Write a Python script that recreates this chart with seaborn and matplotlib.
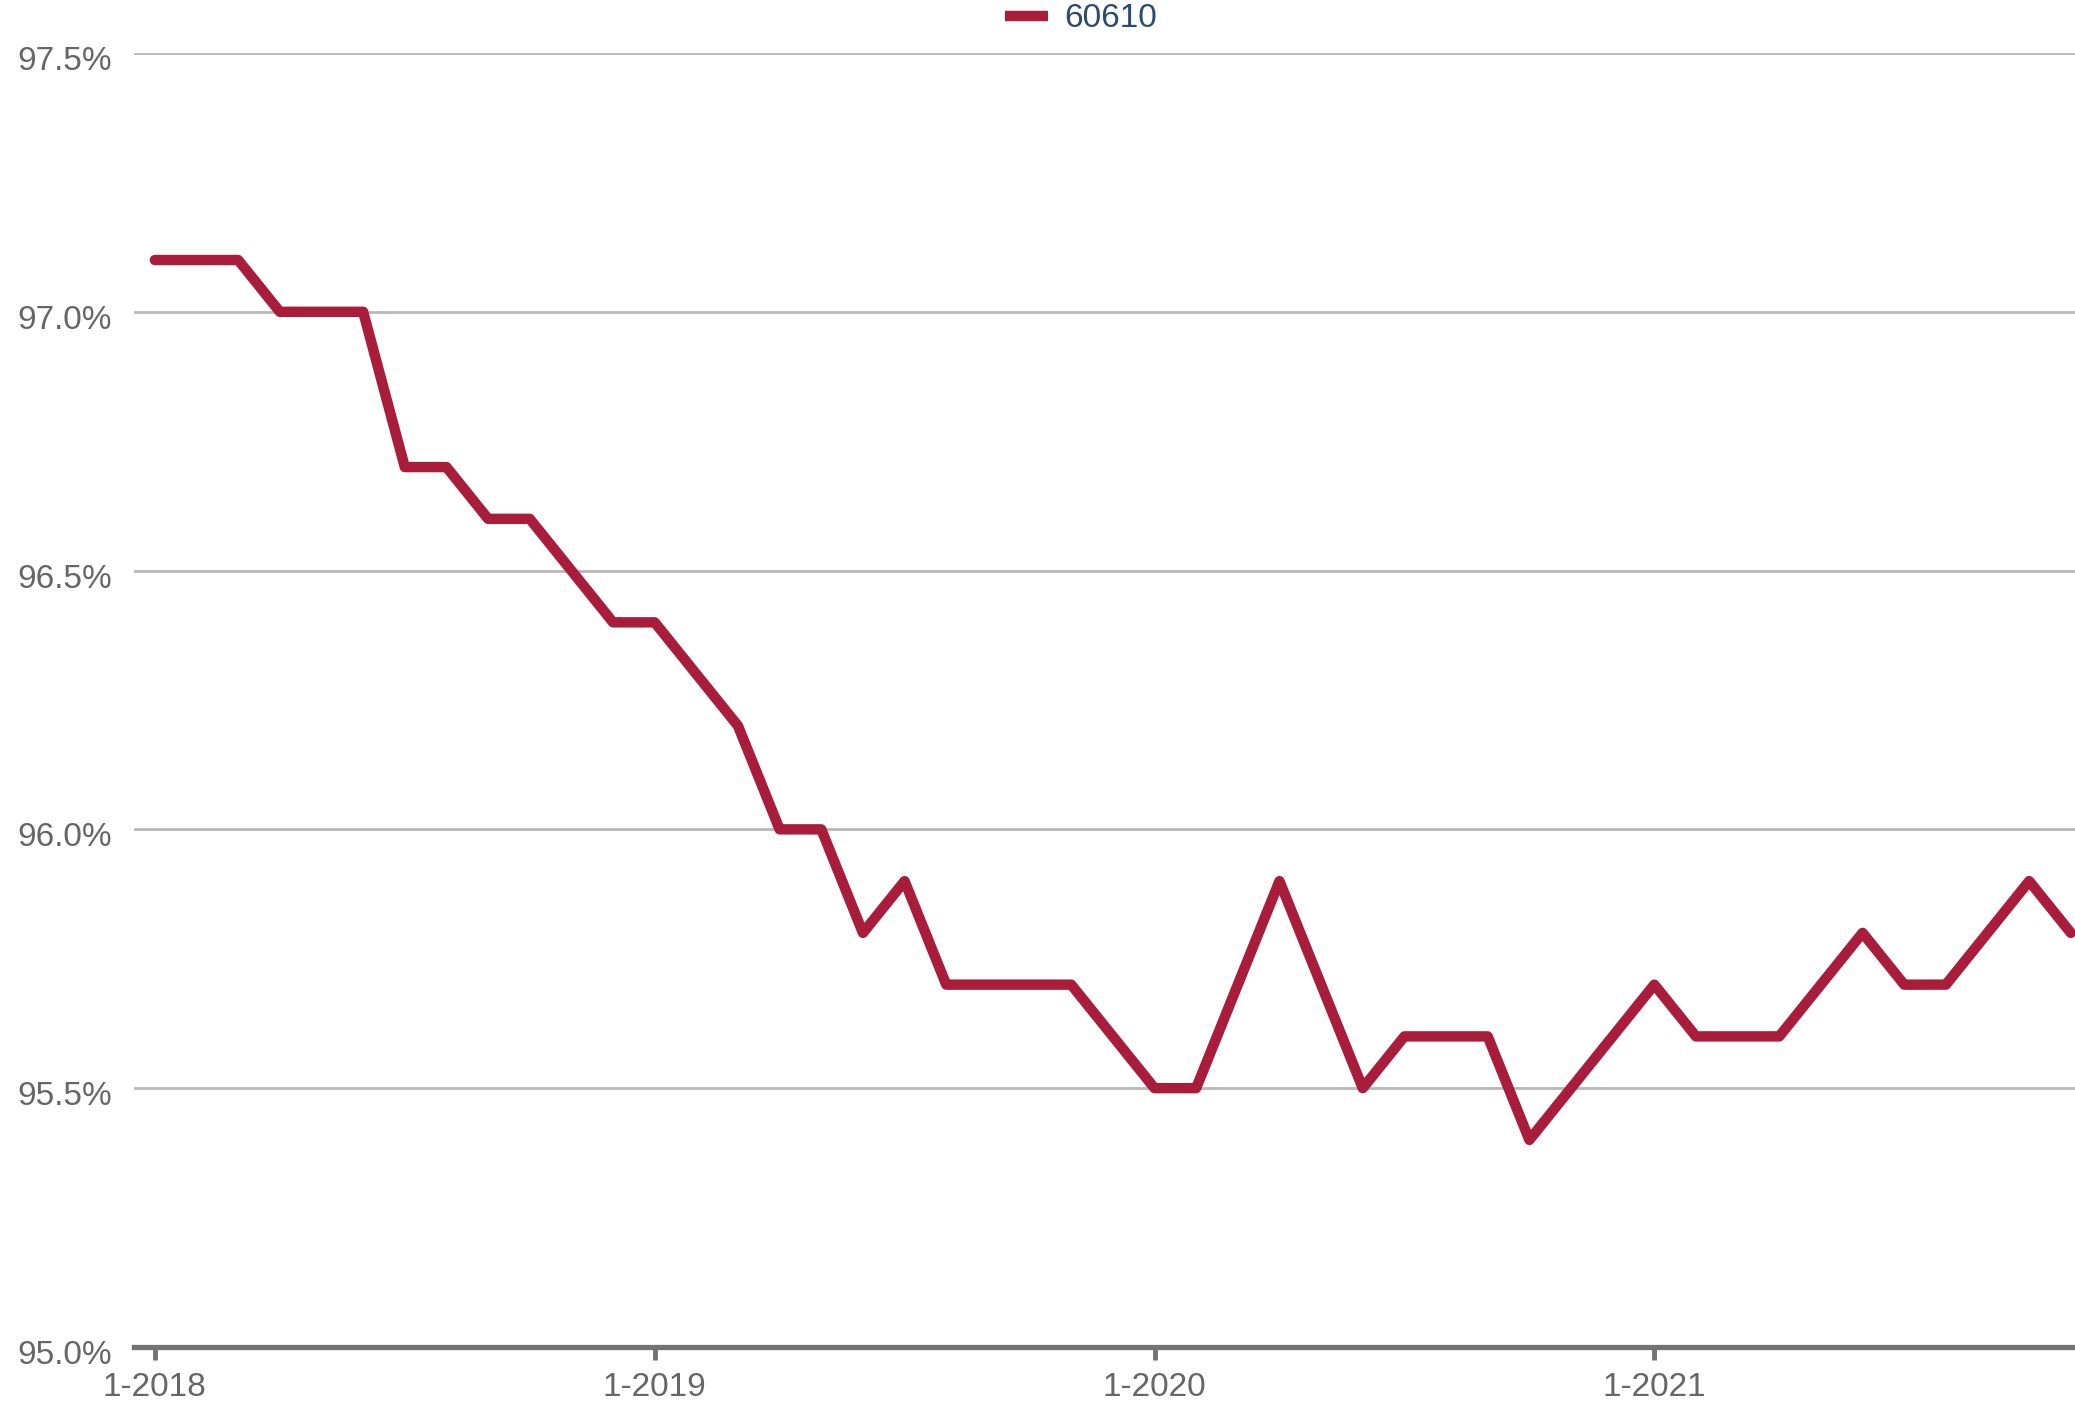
import matplotlib.pyplot as plt
import matplotlib.transforms as mtransforms
import pandas as pd
import seaborn as sns
from matplotlib.ticker import FuncFormatter

# monthly values, Jan 2018 .. Nov 2021
months = pd.date_range('2018-01-01', '2021-11-01', freq='MS')
values = [97.1, 97.1, 97.1, 97.0, 97.0, 97.0, 96.7, 96.7, 96.6, 96.6, 96.5, 96.4,
          96.4, 96.3, 96.2, 96.0, 96.0, 95.8, 95.9, 95.7, 95.7, 95.7, 95.7, 95.6,
          95.5, 95.5, 95.7, 95.9, 95.7, 95.5, 95.6, 95.6, 95.6, 95.4, 95.5, 95.6,
          95.7, 95.6, 95.6, 95.6, 95.7, 95.8, 95.7, 95.7, 95.8, 95.9, 95.8]
series_name = '60610'
tick_labels = ['1-2018', '1-2019', '1-2020', '1-2021']

df = pd.DataFrame({'idx': range(len(months)), 'value': values, 'zip': series_name})

sns.set_theme(style='white')
plt.rcParams['font.family'] = ['Liberation Sans', 'DejaVu Sans']

fig = plt.figure(figsize=(20.75, 14.06), dpi=100)
ax = fig.add_axes([0.0646, 0.042, 0.9354, 0.9203])

sns.lineplot(data=df, x='idx', y='value', hue='zip', palette=['#a91d3a'],
             linewidth=7.5, ax=ax, legend=True, solid_joinstyle='round',
             solid_capstyle='round', clip_on=False)

ax.set_xlim(-0.5, 46.1)
ax.set_ylim(95.0, 97.5)
ax.set_yticks([95.0, 95.5, 96.0, 96.5, 97.0, 97.5])
ax.yaxis.set_major_formatter(FuncFormatter(lambda v, p: f'{v:.1f}%'))
ax.set_xticks([0, 12, 24, 36])
ax.set_xticklabels(tick_labels)
ax.set_xlabel('')
ax.set_ylabel('')

ax.grid(axis='y', color='#b8b8b8', linewidth=2)
ax.set_axisbelow(True)
for s in ['top', 'right', 'left']:
    ax.spines[s].set_visible(False)
ax.spines['bottom'].set_color('#737373')
ax.spines['bottom'].set_linewidth(3.8)
ax.spines['bottom'].set_zorder(5)

ax.tick_params(axis='y', length=0, pad=16, labelsize=24, labelcolor='#666666')
ax.tick_params(axis='x', bottom=True, length=9, width=3.5, color='#737373', pad=9,
               labelsize=24, labelcolor='#666666')

# y labels sit a little below their gridlines
shift = mtransforms.ScaledTranslation(0, -5 / 100, fig.dpi_scale_trans)
for lbl in ax.get_yticklabels():
    lbl.set_transform(lbl.get_transform() + shift)

leg = ax.legend(loc='center', bbox_to_anchor=(0.521, 0.9865), bbox_transform=fig.transFigure,
                frameon=False, fontsize=24, labelcolor='#2b4c6f', handlelength=1.3,
                handletextpad=0.5)
for h in leg.get_lines():
    h.set_linewidth(7.5)
    h.set_solid_capstyle('butt')

fig.savefig('out.png', dpi=100)
